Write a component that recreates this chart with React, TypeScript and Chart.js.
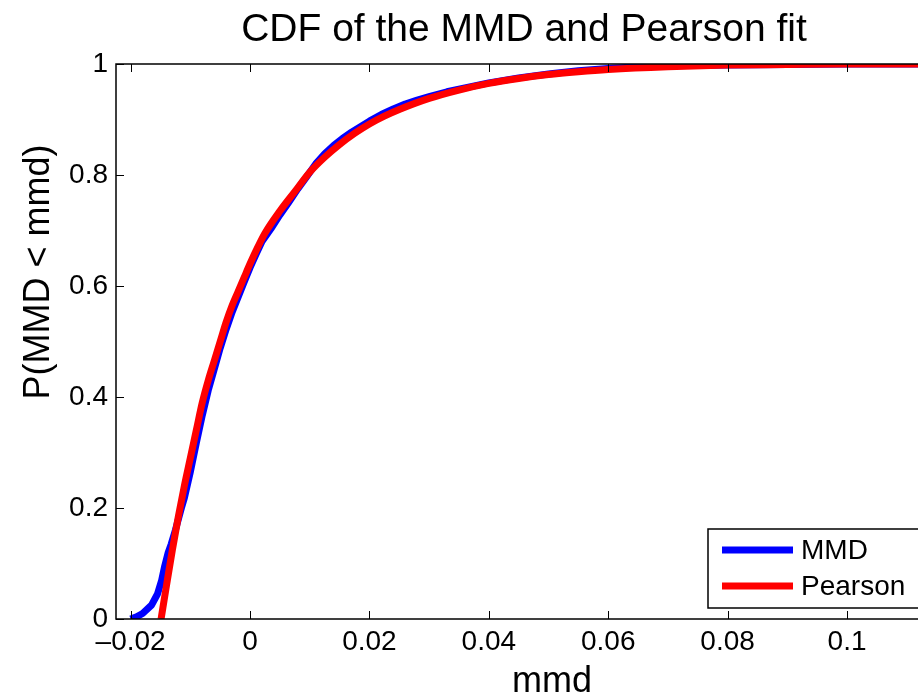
import React, { useEffect, useRef } from "react";
import { Chart, registerables } from "chart.js";

Chart.register(...registerables);

const titleText = "CDF of the MMD and Pearson fit";
const xTitle = "mmd";
const yTitle = "P(MMD < mmd)";

const xTicks = [-0.02, 0, 0.02, 0.04, 0.06, 0.08, 0.1];
const xTickLabels = ["\u20130.02", "0", "0.02", "0.04", "0.06", "0.08", "0.1"];
const yTicks = [0, 0.2, 0.4, 0.6, 0.8, 1];
const yTickLabels = ["0", "0.2", "0.4", "0.6", "0.8", "1"];

const mmdX = [
  -0.02, -0.019, -0.018, -0.0165, -0.0155, -0.0148, -0.0143, -0.0137, -0.0132, -0.0125,
  -0.0115, -0.011, -0.01, -0.009, -0.008, -0.007, -0.006, -0.005, -0.004, -0.003,
  -0.002, -0.001, 0, 0.001, 0.002, 0.0035, 0.005, 0.0065, 0.008, 0.0095,
  0.011, 0.0125, 0.014, 0.0155, 0.017, 0.0185, 0.02, 0.022, 0.024, 0.026,
  0.028, 0.03, 0.033, 0.036, 0.04, 0.045, 0.05, 0.055, 0.06, 0.065,
  0.07, 0.08, 0.09, 0.1, 0.115,
];
const mmdY = [
  0, 0.004, 0.01, 0.025, 0.045, 0.07, 0.095, 0.12, 0.135, 0.16,
  0.2, 0.218, 0.265, 0.317, 0.367, 0.412, 0.45, 0.488, 0.522, 0.553,
  0.58, 0.607, 0.633, 0.657, 0.68, 0.703, 0.728, 0.751, 0.775, 0.797,
  0.82, 0.838, 0.853, 0.866, 0.877, 0.887, 0.897, 0.909, 0.919, 0.928,
  0.935, 0.941, 0.95, 0.957, 0.966, 0.975, 0.982, 0.988, 0.992, 0.995,
  0.997, 0.998, 0.999, 1, 1,
];

const pearsonX = [
  -0.0149, -0.014, -0.013, -0.012, -0.011, -0.01, -0.009, -0.008, -0.007, -0.006,
  -0.005, -0.004, -0.003, -0.002, -0.001, 0, 0.0013, 0.0025, 0.005, 0.0075,
  0.01, 0.0125, 0.015, 0.0175, 0.02, 0.0225, 0.025, 0.03, 0.035, 0.04,
  0.045, 0.05, 0.055, 0.06, 0.07, 0.08, 0.09, 0.1, 0.115,
];
const pearsonY = [
  0, 0.06, 0.125, 0.185, 0.24, 0.29, 0.34, 0.39, 0.43, 0.465,
  0.5, 0.535, 0.565, 0.59, 0.615, 0.64, 0.67, 0.695, 0.735, 0.77,
  0.805, 0.832, 0.855, 0.875, 0.892, 0.906, 0.918, 0.938, 0.953, 0.965,
  0.974, 0.981, 0.986, 0.99, 0.995, 0.998, 0.999, 1, 1,
];

const FONT = "'Liberation Sans', Arial, Helvetica, sans-serif";

const decorPlugin = {
  id: "decor",
  afterDatasetsDraw(chart: any) {
    const { ctx, chartArea } = chart;
    const xs = chart.scales.x;
    const ys = chart.scales.y;
    const { left, right, top, bottom } = chartArea;
    ctx.save();
    ctx.strokeStyle = "#000";
    ctx.lineWidth = 1.5;
    ctx.strokeRect(left, top, right - left, bottom - top);
    ctx.lineWidth = 1;
    const tl = 8;
    ctx.beginPath();
    xTicks.forEach((v) => {
      const px = Math.round(xs.getPixelForValue(v)) + 0.5;
      ctx.moveTo(px, bottom);
      ctx.lineTo(px, bottom - tl);
      ctx.moveTo(px, top);
      ctx.lineTo(px, top + tl);
    });
    yTicks.forEach((v) => {
      const py = Math.round(ys.getPixelForValue(v)) + 0.5;
      ctx.moveTo(left, py);
      ctx.lineTo(left + tl, py);
      ctx.moveTo(right, py);
      ctx.lineTo(right - tl, py);
    });
    ctx.stroke();

    // legend
    const lx = 708, ly = 529, lw = 212, lh = 79;
    ctx.fillStyle = "#fff";
    ctx.fillRect(lx, ly, lw, lh);
    ctx.lineWidth = 1.5;
    ctx.strokeRect(lx, ly, lw, lh);
    const ds = chart.data.datasets;
    const entries = [ds[0], ds[1]];
    ctx.font = `28px ${FONT}`;
    ctx.textBaseline = "middle";
    ctx.textAlign = "left";
    entries.forEach((d: any, i: number) => {
      const yy = 550 + i * 36;
      ctx.strokeStyle = d.borderColor;
      ctx.lineWidth = 7;
      ctx.beginPath();
      ctx.moveTo(722, yy);
      ctx.lineTo(793, yy);
      ctx.stroke();
      ctx.fillStyle = "#000";
      ctx.fillText(d.label, 801, yy + 1);
    });

    // titles
    ctx.fillStyle = "#000";
    ctx.textAlign = "center";
    ctx.textBaseline = "alphabetic";
    ctx.font = `39px ${FONT}`;
    ctx.fillText(titleText, 524, 41);
    ctx.font = `36px ${FONT}`;
    ctx.fillText(xTitle, 552, 692);
    ctx.save();
    ctx.translate(49, 272);
    ctx.rotate(-Math.PI / 2);
    ctx.fillText(yTitle, 0, 0);
    ctx.restore();
    ctx.restore();
  },
};

export default function App() {
  const ref = useRef<HTMLCanvasElement | null>(null);
  useEffect(() => {
    if (!ref.current) return;
    const chart = new Chart(ref.current, {
      type: "line",
      data: {
        datasets: [
          {
            label: "MMD",
            data: mmdX.map((x, i) => ({ x, y: mmdY[i] })),
            borderColor: "#0000ff",
            borderWidth: 7,
            pointRadius: 0,
            tension: 0,
            fill: false,
            clip: 0,
            order: 2,
            borderJoinStyle: "round",
          },
          {
            label: "Pearson",
            data: pearsonX.map((x, i) => ({ x, y: pearsonY[i] })),
            borderColor: "#ff0000",
            borderWidth: 7,
            pointRadius: 0,
            tension: 0.3,
            cubicInterpolationMode: "monotone",
            fill: false,
            clip: 0,
            order: 1,
            borderJoinStyle: "round",
          },
        ],
      } as any,
      options: {
        animation: false,
        responsive: false,
        devicePixelRatio: 1,
        layout: { padding: { left: 0, top: 64, right: 10, bottom: 0 } },
        plugins: {
          legend: { display: false },
          tooltip: { enabled: false },
          title: { display: false },
        },
        scales: {
          x: {
            type: "linear",
            min: -0.02245,
            max: 0.1139,
            grid: { display: false, drawTicks: false },
            border: { display: false },
            afterBuildTicks: (s: any) => {
              s.ticks = xTicks.map((v) => ({ value: v }));
            },
            afterFit: (s: any) => {
              s.height = 77;
            },
            ticks: {
              color: "#000",
              font: { family: FONT, size: 28 },
              padding: 6,
              maxRotation: 0,
              autoSkip: false,
              callback: (v: any) => {
                const i = xTicks.findIndex((t) => Math.abs(t - v) < 1e-9);
                return i >= 0 ? xTickLabels[i] : "";
              },
            },
          },
          y: {
            type: "linear",
            min: 0,
            max: 1,
            grid: { display: false, drawTicks: false },
            border: { display: false },
            afterBuildTicks: (s: any) => {
              s.ticks = yTicks.map((v) => ({ value: v }));
            },
            afterFit: (s: any) => {
              s.width = 116;
            },
            ticks: {
              color: "#000",
              font: { family: FONT, size: 28 },
              padding: 8,
              autoSkip: false,
              callback: (v: any) => {
                const i = yTicks.findIndex((t) => Math.abs(t - v) < 1e-9);
                return i >= 0 ? yTickLabels[i] : "";
              },
            },
          },
        },
      } as any,
      plugins: [decorPlugin],
    });
    return () => chart.destroy();
  }, []);
  return (
    <div
      style={{
        position: "absolute",
        left: 0,
        top: 0,
        width: 918,
        height: 696,
        overflow: "hidden",
        background: "#fff",
      }}
    >
      <canvas ref={ref} width={940} height={696} style={{ display: "block" }} />
    </div>
  );
}
